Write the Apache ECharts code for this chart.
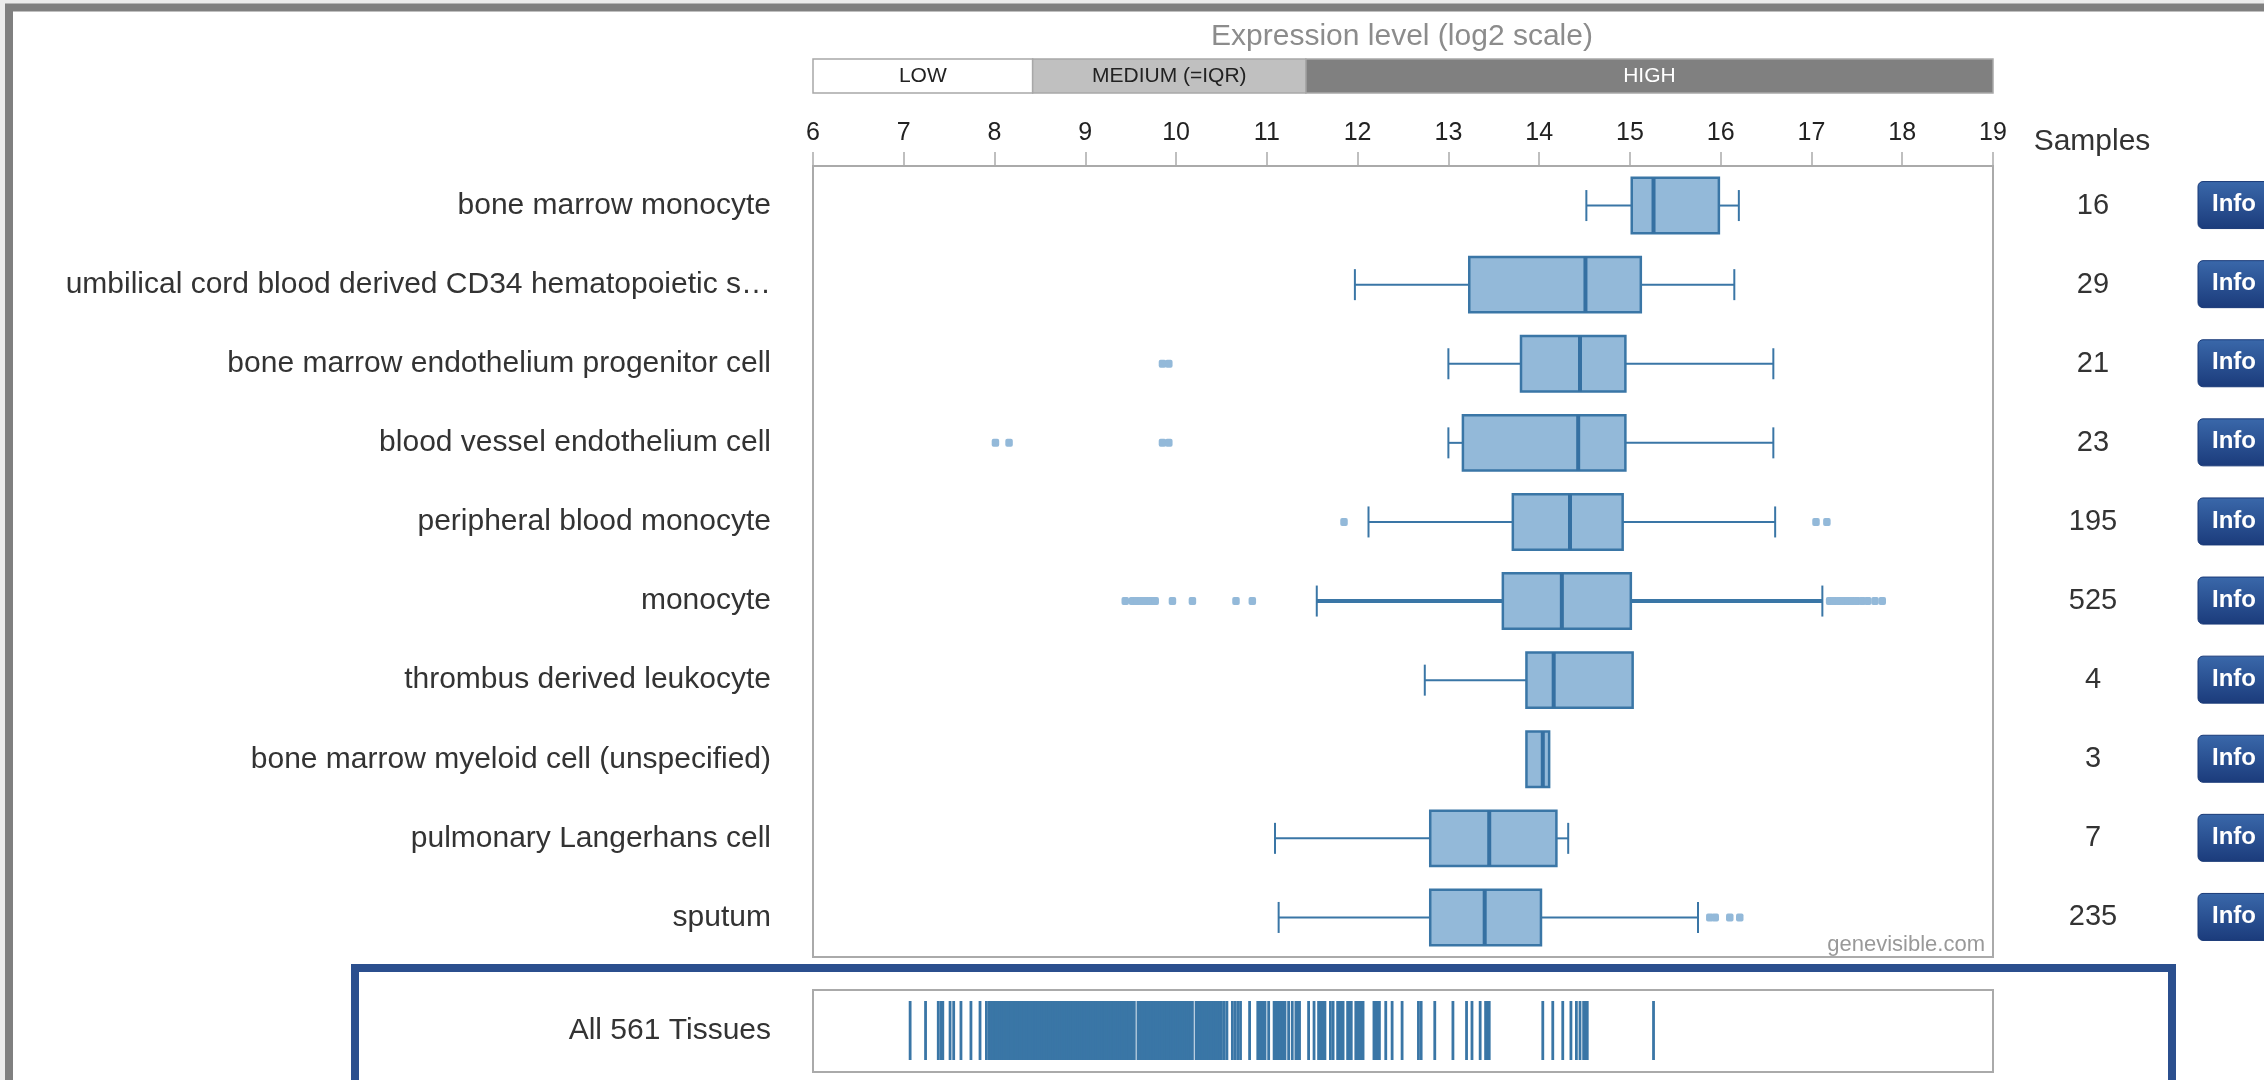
<!DOCTYPE html>
<html>
<head>
<meta charset="utf-8">
<script src="https://cdn.jsdelivr.net/npm/echarts@6/dist/echarts.min.js"></script>
<style>
html,body{margin:0;padding:0;background:#fff;}
#c{width:2264px;height:1080px;}
</style>
</head>
<body>
<div id="c"></div>
<script>
// ---------------- data ----------------
const categories = [
  'bone marrow monocyte',
  'umbilical cord blood derived CD34 hematopoietic s\u2026',
  'bone marrow endothelium progenitor cell',
  'blood vessel endothelium cell',
  'peripheral blood monocyte',
  'monocyte',
  'thrombus derived leukocyte',
  'bone marrow myeloid cell (unspecified)',
  'pulmonary Langerhans cell',
  'sputum'
];
const samples     = [16, 29, 21, 23, 195, 525, 4, 3, 7, 235];
const whiskerLow  = [14.52, 11.97, 13.00, 13.00, 12.12, 11.55, 12.74, 13.86, 11.09, 11.13];
const q1          = [15.02, 13.23, 13.80, 13.16, 13.71, 13.60, 13.86, 13.86, 12.80, 12.80];
const median      = [15.26, 14.51, 14.45, 14.43, 14.34, 14.25, 14.16, 14.04, 13.45, 13.40];
const q3          = [15.98, 15.12, 14.95, 14.95, 14.92, 15.01, 15.03, 14.11, 14.19, 14.02];
const whiskerHigh = [16.20, 16.15, 16.58, 16.58, 16.60, 17.12, 15.03, 14.11, 14.32, 15.75];
const outliers = [
  [],
  [],
  [9.85, 9.92],
  [8.01, 8.16, 9.85, 9.92],
  [11.85, 17.05, 17.17],
  [9.44, 9.52, 9.57, 9.62, 9.67, 9.72, 9.77, 9.96, 10.18, 10.66, 10.84,
   17.20, 17.25, 17.30, 17.35, 17.40, 17.45, 17.50, 17.56, 17.62, 17.70, 17.78],
  [],
  [],
  [],
  [15.88, 15.94, 16.10, 16.21]
];
const xTicks = [6, 7, 8, 9, 10, 11, 12, 13, 14, 15, 16, 17, 18, 19];
const legendLabels = ['LOW', 'MEDIUM (=IQR)', 'HIGH'];
const legendBreaks = [6, 8.42, 11.43, 19];
const allTissuesLabel = ['All 561 Tissues'];
const allTissueValues = [
  7.07, 7.24, 7.38, 7.41, 7.43, 7.51, 7.55, 7.63, 7.74, 7.84, 7.91, 7.94,
  7.96, 7.98, 8.00, 8.02, 8.04, 8.06, 8.08, 8.10, 8.12, 8.14, 8.16, 8.18, 8.20,
  8.22, 8.24, 8.26, 8.28, 8.30, 8.32, 8.34, 8.36, 8.38, 8.40, 8.42, 8.44, 8.46,
  8.48, 8.50, 8.52, 8.54, 8.56, 8.58, 8.60, 8.62, 8.64, 8.66, 8.68, 8.70, 8.72,
  8.74, 8.76, 8.78, 8.80, 8.82, 8.84, 8.86, 8.88, 8.90, 8.92, 8.94, 8.96, 8.98,
  9.00, 9.02, 9.04, 9.06, 9.08, 9.10, 9.12, 9.14, 9.16, 9.18, 9.20, 9.22, 9.24,
  9.26, 9.28, 9.30, 9.32, 9.34, 9.36, 9.38, 9.40, 9.42, 9.44, 9.46, 9.48, 9.50,
  9.52, 9.54,
  9.58, 9.60, 9.62, 9.64, 9.66, 9.68, 9.70, 9.72, 9.74, 9.76, 9.78, 9.80, 9.82,
  9.84, 9.86, 9.88, 9.90, 9.92, 9.94, 9.96, 9.98, 10.00, 10.02, 10.04, 10.06,
  10.08, 10.10, 10.12, 10.14, 10.16, 10.18,
  10.22, 10.24, 10.26, 10.28, 10.30, 10.32, 10.34, 10.36, 10.38, 10.40, 10.42,
  10.44, 10.46, 10.48, 10.50,
  10.53, 10.56, 10.62, 10.65, 10.68, 10.71, 10.81, 10.90, 10.92, 10.94, 10.96,
  10.98, 11.02, 11.08, 11.10, 11.12, 11.14, 11.16, 11.18, 11.20, 11.24, 11.28,
  11.32, 11.34, 11.36, 11.46, 11.52, 11.57, 11.60, 11.62, 11.64, 11.70, 11.73,
  11.78, 11.80, 11.82, 11.84, 11.89, 11.91, 11.93, 11.98, 12.00, 12.02, 12.04,
  12.06, 12.18, 12.20, 12.22, 12.24, 12.31, 12.38, 12.49, 12.67, 12.70, 12.85,
  13.05, 13.20, 13.26, 13.35, 13.41, 13.43, 13.45, 14.04, 14.15, 14.26, 14.35,
  14.41, 14.45, 14.49, 14.51, 14.53, 15.26
];

// ---------------- styles ----------------
const FONT = '"Liberation Sans", Arial, sans-serif';
const BOX_FILL = '#93b9d9';
const BOX_STROKE = '#3a76a6';

const chart = echarts.init(document.getElementById('c'), null, {renderer: 'canvas'});

function renderBox(params, api) {
  const i = api.value(0);
  const lo = api.coord([api.value(1), i]);
  const a = api.coord([api.value(2), i]);
  const m = api.coord([api.value(3), i]);
  const b = api.coord([api.value(4), i]);
  const hi = api.coord([api.value(5), i]);
  const y = a[1];
  const bh = api.size([0, 1])[1] * 0.7;
  const ch = 31;
  const ww = samples[i] >= 500 ? 4 : 2;
  const children = [];
  if (a[0] - lo[0] > 0.5) {
    children.push({type: 'line', shape: {x1: lo[0], y1: y, x2: a[0], y2: y}, style: {stroke: BOX_STROKE, lineWidth: ww}});
    children.push({type: 'line', shape: {x1: lo[0], y1: y - ch / 2, x2: lo[0], y2: y + ch / 2}, style: {stroke: BOX_STROKE, lineWidth: 2}});
  }
  if (hi[0] - b[0] > 0.5) {
    children.push({type: 'line', shape: {x1: b[0], y1: y, x2: hi[0], y2: y}, style: {stroke: BOX_STROKE, lineWidth: ww}});
    children.push({type: 'line', shape: {x1: hi[0], y1: y - ch / 2, x2: hi[0], y2: y + ch / 2}, style: {stroke: BOX_STROKE, lineWidth: 2}});
  }
  children.push({type: 'rect', shape: {x: a[0], y: y - bh / 2, width: b[0] - a[0], height: bh},
    style: {fill: BOX_FILL, stroke: BOX_STROKE, lineWidth: 2.5}});
  children.push({type: 'line', shape: {x1: m[0], y1: y - bh / 2, x2: m[0], y2: y + bh / 2},
    style: {stroke: '#3570a2', lineWidth: 4}});
  return {type: 'group', children};
}

function renderLegend(params, api) {
  const s = api.coord([api.value(0), 0]);
  const e = api.coord([api.value(1), 1]);
  const idx = api.value(2);
  const fills = ['#ffffff', '#c0c0c0', '#808080'];
  const textFill = ['#222', '#222', '#ffffff'];
  return {type: 'group', children: [
    {type: 'rect', shape: {x: s[0], y: e[1], width: e[0] - s[0], height: s[1] - e[1]},
      style: {fill: fills[idx], stroke: '#a8a8a8', lineWidth: 1.5}},
    {type: 'text', style: {text: legendLabels[idx], x: (s[0] + e[0]) / 2, y: (s[1] + e[1]) / 2,
      fill: textFill[idx], fontSize: 21, fontFamily: FONT, align: 'center', verticalAlign: 'middle'}}
  ]};
}

function renderSide(params, api) {
  const i = api.value(0);
  const cs = params.coordSys;
  const y = api.coord([0, i])[1];
  const grad = new echarts.graphic.LinearGradient(0, 0, 0, 1, [
    {offset: 0, color: '#3a68aa'}, {offset: 1, color: '#1b3b7b'}]);
  return {type: 'group', children: [
    {type: 'text', style: {text: String(samples[i]), x: cs.x + 53, y: y, fill: '#333',
      fontSize: 29, fontFamily: FONT, align: 'center', verticalAlign: 'middle'}},
    {type: 'rect', shape: {x: cs.x + 158, y: y - 24, width: 90, height: 47, r: 5},
      style: {fill: grad, stroke: '#1a3a78', lineWidth: 1}},
    {type: 'text', style: {text: 'Info', x: cs.x + 172, y: y - 1, fill: '#ffffff',
      fontSize: 24, fontWeight: 'bold', fontFamily: FONT, align: 'left', verticalAlign: 'middle'}}
  ]};
}

function renderRug(params, api) {
  const p = api.coord([api.value(0), 0]);
  const cs = params.coordSys;
  return {type: 'rect', shape: {x: p[0] - 1.4, y: cs.y + 11, width: 2.8, height: cs.height - 23},
    style: {fill: BOX_STROKE}};
}

const option = {
  backgroundColor: '#ececec',
  animation: false,
  textStyle: {fontFamily: FONT},
  graphic: [
    {type: 'rect', z: -10, shape: {x: 9, y: 7.5, width: 2300, height: 1200},
      style: {fill: '#ffffff', stroke: '#808080', lineWidth: 8}},
    {type: 'rect', z: 10, shape: {x: 355, y: 968, width: 1817, height: 200},
      style: {fill: 'none', stroke: '#2b4f8e', lineWidth: 8}},
    {type: 'text', z: 10, style: {text: 'Expression level (log2 scale)', x: 1402, y: 37,
      fill: '#8c8c8c', fontSize: 30, fontFamily: FONT, align: 'center', verticalAlign: 'middle'}},
    {type: 'text', z: 10, style: {text: 'Samples', x: 2092, y: 142,
      fill: '#333', fontSize: 30, fontFamily: FONT, align: 'center', verticalAlign: 'middle'}},
    {type: 'text', z: 10, style: {text: 'genevisible.com', x: 1985, y: 945,
      fill: '#999', fontSize: 22, fontFamily: FONT, align: 'right', verticalAlign: 'middle'}}
  ],
  grid: [
    {left: 813, width: 1180, top: 166, height: 791, show: true, backgroundColor: '#fff',
      borderColor: '#aaaaaa', borderWidth: 2, outerBoundsMode: 'none'},
    {left: 813, width: 1180, top: 59, height: 34, outerBoundsMode: 'none'},
    {left: 2040, width: 224, top: 166, height: 791, outerBoundsMode: 'none'},
    {left: 813, width: 1180, top: 990, height: 82, show: true, backgroundColor: '#fff',
      borderColor: '#aaaaaa', borderWidth: 2, outerBoundsMode: 'none'}
  ],
  xAxis: [
    {gridIndex: 0, type: 'value', position: 'top', min: 6, max: 19, interval: 1,
      axisLine: {show: true, lineStyle: {color: '#aaaaaa', width: 2}},
      axisTick: {show: true, length: 14, lineStyle: {color: '#aaaaaa', width: 1.5}},
      splitLine: {show: false},
      axisLabel: {margin: 20, fontSize: 25, color: '#222', fontFamily: FONT,
        formatter: v => (xTicks.indexOf(v) >= 0 ? String(v) : '')}},
    {gridIndex: 1, type: 'value', min: 6, max: 19, show: false},
    {gridIndex: 2, type: 'value', min: 0, max: 1, show: false},
    {gridIndex: 3, type: 'value', min: 6, max: 19, show: false}
  ],
  yAxis: [
    {gridIndex: 0, type: 'category', data: categories, inverse: true,
      axisLine: {show: false}, axisTick: {show: false}, splitLine: {show: false},
      axisLabel: {interval: 0, margin: 42, fontSize: 30, color: '#333', fontFamily: FONT}},
    {gridIndex: 1, type: 'value', min: 0, max: 1, show: false},
    {gridIndex: 2, type: 'category', data: categories, inverse: true, show: false},
    {gridIndex: 3, type: 'category', data: allTissuesLabel,
      axisLine: {show: false}, axisTick: {show: false}, splitLine: {show: false},
      axisLabel: {interval: 0, margin: 42, fontSize: 30, color: '#333', fontFamily: FONT}}
  ],
  series: [
    {type: 'custom', xAxisIndex: 0, yAxisIndex: 0, renderItem: renderBox,
      encode: {x: [1, 2, 3, 4, 5], y: 0},
      data: categories.map((c, i) => [i, whiskerLow[i], q1[i], median[i], q3[i], whiskerHigh[i]])},
    {type: 'scatter', xAxisIndex: 0, yAxisIndex: 0, symbol: 'roundRect', symbolSize: [7.5, 8],
      itemStyle: {color: BOX_FILL, opacity: 1},
      data: outliers.flatMap((arr, i) => arr.map(v => [v, i]))},
    {type: 'custom', xAxisIndex: 1, yAxisIndex: 1, renderItem: renderLegend,
      encode: {x: [0, 1]},
      data: legendLabels.map((l, i) => [legendBreaks[i], legendBreaks[i + 1], i])},
    {type: 'custom', xAxisIndex: 2, yAxisIndex: 2, renderItem: renderSide,
      encode: {y: 0},
      data: samples.map((s, i) => [i, s])},
    {type: 'custom', xAxisIndex: 3, yAxisIndex: 3, renderItem: renderRug,
      encode: {x: 0, y: 1},
      data: allTissueValues.map(v => [v, 0])}
  ]
};
chart.setOption(option);
</script>
</body>
</html>
